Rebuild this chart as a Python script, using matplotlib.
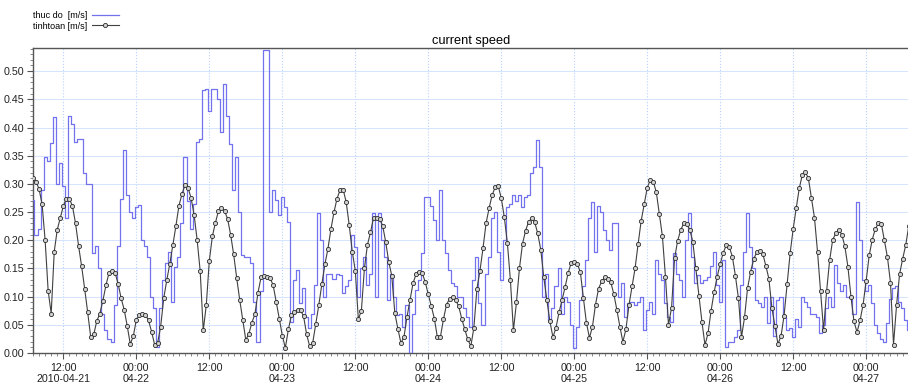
import matplotlib
matplotlib.use("Agg")
import matplotlib.pyplot as plt
import matplotlib.dates as mdates
import matplotlib.ticker as mticker
import pandas as pd

plt.rcParams["font.family"] = ["Liberation Sans", "DejaVu Sans"]

# half-hourly series, 2010-04-21 07:00 .. 2010-04-27 07:00
times = pd.date_range("2010-04-21 07:00", periods=289, freq="30min")

# measured current speed [m/s]
thuc_do = [
    0.271, 0.21, 0.22, 0.289, 0.348, 0.34, 0.372, 0.419, 0.30, 0.337,
    0.296, 0.24, 0.42, 0.407, 0.375, 0.379, 0.379, 0.32, 0.30, 0.30,
    0.177, 0.19, 0.15, 0.07, 0.04, 0.025, 0.02, 0.085, 0.19, 0.274,
    0.36, 0.28, 0.25, 0.24, 0.259, 0.262, 0.20, 0.19, 0.171, 0.10,
    0.08, 0.011, 0.08, 0.129, 0.16, 0.18, 0.09, 0.153, 0.171, 0.23,
    0.348, 0.27, 0.22, 0.265, 0.375, 0.38, 0.466, 0.468, 0.43, 0.469,
    0.469, 0.45, 0.392, 0.478, 0.42, 0.37, 0.29, 0.348, 0.25, 0.174,
    0.171, 0.17, 0.16, 0.09, 0.02, 0.11, 0.537, 0.537, 0.251, 0.289,
    0.271, 0.245, 0.277, 0.259, 0.233, 0.055, 0.13, 0.147, 0.088, 0.115,
    0.064, 0.045, 0.07, 0.12, 0.248, 0.20, 0.10, 0.141, 0.141, 0.132,
    0.141, 0.139, 0.106, 0.118, 0.13, 0.209, 0.188, 0.10, 0.15, 0.171,
    0.12, 0.141, 0.248, 0.10, 0.248, 0.20, 0.171, 0.094, 0.141, 0.10,
    0.067, 0.07, 0.047, 0.085, 0.0, 0.07, 0.112, 0.13, 0.177, 0.277,
    0.277, 0.26, 0.236, 0.20, 0.29, 0.20, 0.177, 0.147, 0.125, 0.118,
    0.10, 0.10, 0.08, 0.064, 0.047, 0.129, 0.171, 0.088, 0.05, 0.141,
    0.17, 0.239, 0.25, 0.18, 0.13, 0.20, 0.259, 0.265, 0.28, 0.27,
    0.28, 0.259, 0.277, 0.28, 0.319, 0.33, 0.378, 0.33, 0.10, 0.14,
    0.058, 0.08, 0.118, 0.15, 0.07, 0.10, 0.09, 0.05, 0.008, 0.047,
    0.094, 0.118, 0.165, 0.239, 0.268, 0.18, 0.26, 0.25, 0.218, 0.20,
    0.183, 0.23, 0.23, 0.10, 0.125, 0.064, 0.088, 0.09, 0.085, 0.09,
    0.10, 0.041, 0.076, 0.09, 0.07, 0.165, 0.14, 0.129, 0.088, 0.064,
    0.055, 0.177, 0.14, 0.129, 0.10, 0.20, 0.248, 0.17, 0.125, 0.138,
    0.124, 0.129, 0.135, 0.155, 0.18, 0.12, 0.091, 0.165, 0.011, 0.02,
    0.02, 0.029, 0.04, 0.12, 0.18, 0.248, 0.188, 0.15, 0.094, 0.088,
    0.082, 0.10, 0.053, 0.10, 0.03, 0.094, 0.10, 0.064, 0.041, 0.045,
    0.029, 0.06, 0.047, 0.10, 0.09, 0.082, 0.07, 0.07, 0.064, 0.035,
    0.05, 0.08, 0.10, 0.082, 0.156, 0.124, 0.11, 0.12, 0.10, 0.10,
    0.07, 0.268, 0.20, 0.13, 0.11, 0.12, 0.088, 0.05, 0.035, 0.025,
    0.02, 0.053, 0.095, 0.115, 0.118, 0.09, 0.08, 0.058, 0.04,
]

# computed current speed [m/s]
tinhtoan = [
    0.311, 0.304, 0.291, 0.264, 0.20, 0.11, 0.07, 0.18, 0.219, 0.240,
    0.261, 0.274, 0.274, 0.260, 0.23, 0.19, 0.154, 0.114, 0.072, 0.028,
    0.033, 0.057, 0.070, 0.093, 0.120, 0.142, 0.145, 0.142, 0.123, 0.097,
    0.077, 0.048, 0.016, 0.030, 0.059, 0.067, 0.070, 0.068, 0.058, 0.038,
    0.015, 0.018, 0.047, 0.097, 0.129, 0.158, 0.191, 0.225, 0.261, 0.282,
    0.298, 0.293, 0.275, 0.245, 0.20, 0.145, 0.04, 0.085, 0.164, 0.207,
    0.231, 0.252, 0.258, 0.252, 0.238, 0.21, 0.175, 0.133, 0.094, 0.058,
    0.023, 0.034, 0.054, 0.069, 0.107, 0.134, 0.136, 0.135, 0.133, 0.12,
    0.091, 0.061, 0.031, 0.009, 0.042, 0.067, 0.072, 0.076, 0.076, 0.065,
    0.033, 0.012, 0.018, 0.052, 0.085, 0.122, 0.157, 0.185, 0.22, 0.25,
    0.274, 0.289, 0.290, 0.268, 0.227, 0.18, 0.146, 0.06, 0.075, 0.15,
    0.192, 0.214, 0.24, 0.24, 0.237, 0.226, 0.197, 0.162, 0.137, 0.071,
    0.043, 0.018, 0.028, 0.064, 0.094, 0.124, 0.14, 0.144, 0.142, 0.126,
    0.104, 0.083, 0.061, 0.028, 0.029, 0.06, 0.086, 0.096, 0.099, 0.094,
    0.083, 0.061, 0.042, 0.024, 0.012, 0.045, 0.114, 0.146, 0.186, 0.23,
    0.257, 0.28, 0.294, 0.296, 0.275, 0.241, 0.196, 0.13, 0.04, 0.09,
    0.151, 0.194, 0.217, 0.233, 0.239, 0.232, 0.212, 0.183, 0.134, 0.094,
    0.056, 0.028, 0.045, 0.072, 0.094, 0.117, 0.142, 0.16, 0.162, 0.158,
    0.144, 0.098, 0.054, 0.027, 0.047, 0.086, 0.114, 0.127, 0.134, 0.132,
    0.126, 0.105, 0.077, 0.047, 0.02, 0.042, 0.085, 0.118, 0.150, 0.193,
    0.234, 0.264, 0.293, 0.307, 0.304, 0.285, 0.246, 0.207, 0.135, 0.05,
    0.08, 0.168, 0.199, 0.218, 0.230, 0.229, 0.219, 0.197, 0.15, 0.102,
    0.055, 0.014, 0.035, 0.075, 0.108, 0.135, 0.158, 0.178, 0.191, 0.188,
    0.171, 0.137, 0.097, 0.028, 0.063, 0.115, 0.144, 0.166, 0.179, 0.181,
    0.176, 0.155, 0.132, 0.08, 0.048, 0.016, 0.03, 0.066, 0.122, 0.177,
    0.22, 0.257, 0.292, 0.316, 0.321, 0.31, 0.275, 0.24, 0.18, 0.11,
    0.04, 0.11, 0.165, 0.201, 0.212, 0.219, 0.21, 0.189, 0.153, 0.10,
    0.056, 0.037, 0.058, 0.086, 0.128, 0.173, 0.201, 0.22, 0.23, 0.229,
    0.20, 0.17, 0.125, 0.015, 0.085, 0.14, 0.167, 0.191, 0.225,
]

fig = plt.figure(figsize=(9.08, 3.85), dpi=100)
ax = fig.add_axes([0.0363, 0.0831, 0.9645, 0.7922])

ax.plot(times, thuc_do, color="#7272ee", lw=0.9, drawstyle="steps-mid",
        label="thuc do  [m/s]", zorder=3)
ax.plot(times, tinhtoan, color="#404040", lw=0.8, marker="o", ms=3.0,
        mfc="#d2d2d2", mec="#2a2a2a", mew=0.6, label="tinhtoan [m/s]", zorder=4)

ax.set_xlim(pd.Timestamp("2010-04-21 07:00"), pd.Timestamp("2010-04-27 07:00"))
ax.set_ylim(0, 0.541)

# y axis: majors every 0.05, minors every 0.01
ax.yaxis.set_major_locator(mticker.MultipleLocator(0.05))
ax.yaxis.set_minor_locator(mticker.MultipleLocator(0.01))
ax.yaxis.set_major_formatter(mticker.FormatStrFormatter("%.2f"))

# x axis: majors at 00:00 / 12:00, minors hourly
ax.xaxis.set_major_locator(mdates.HourLocator(byhour=[0, 12]))
ax.xaxis.set_minor_locator(mdates.HourLocator())


def fmt_time(val, pos):
    d = mdates.num2date(val)
    if d.hour == 12:
        if d.day == 21:
            return "12:00\n2010-04-21"
        return "12:00"
    return "00:00\n" + d.strftime("%m-%d")


ax.xaxis.set_major_formatter(mticker.FuncFormatter(fmt_time))

ax.tick_params(axis="both", which="major", labelsize=7.7, length=4, width=0.8,
               color="#555555", labelcolor="#222222", pad=2)
ax.tick_params(axis="both", which="minor", length=2.5, width=0.6, color="#777777")
ax.tick_params(axis="x", which="major", pad=3)

ax.grid(True, axis="y", which="major", color="#d4e4ff", lw=0.7, ls="-")
ax.grid(True, axis="x", which="major", color="#b9d2ff", lw=0.8, ls=":")
ax.set_axisbelow(True)

for side in ("left", "top", "bottom"):
    ax.spines[side].set_color("#555555")
    ax.spines[side].set_linewidth(1.0)
ax.spines["right"].set_visible(False)

ax.set_title("current speed", fontsize=9.2, pad=3)

fig.legend(loc="upper left", bbox_to_anchor=(0.03, 0.985), frameon=False,
           fontsize=6.5, markerfirst=False, handlelength=3.0,
           labelspacing=0.15, handletextpad=0.5, borderaxespad=0.2)

fig.savefig("out.png", dpi=100)
